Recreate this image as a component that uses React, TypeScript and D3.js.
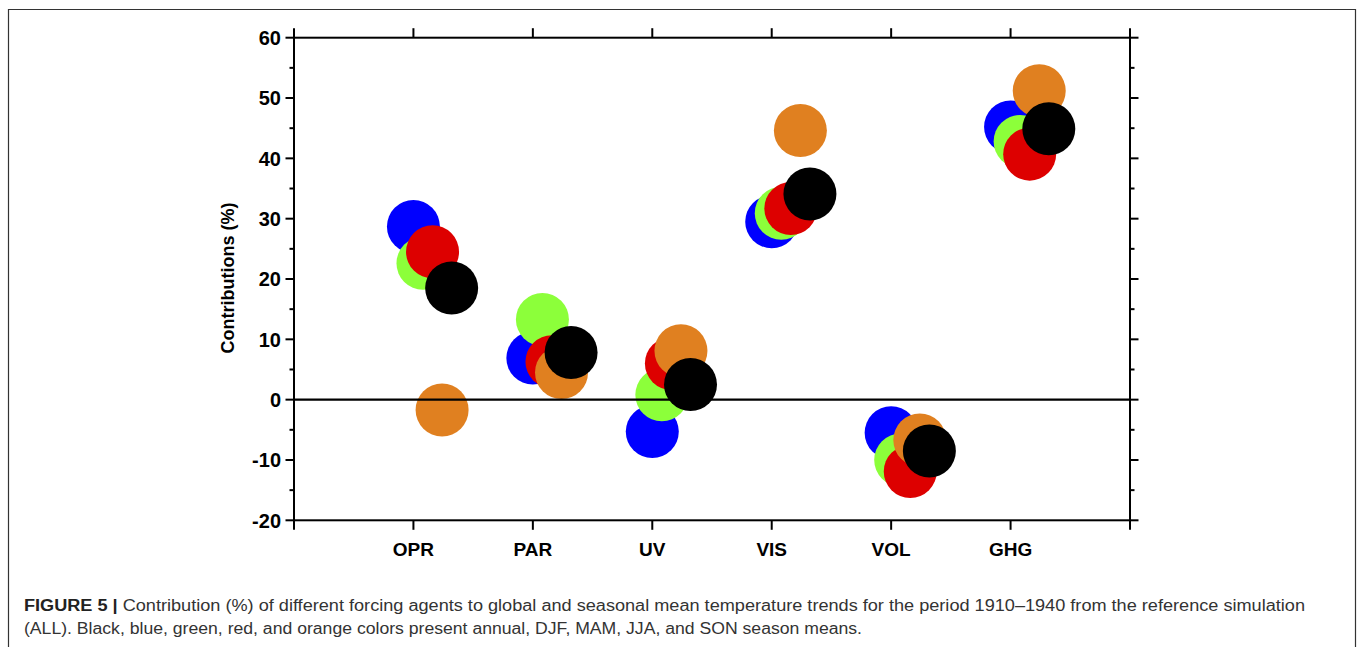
import React from "react";
import * as d3 from "d3";

const categories = ["OPR", "PAR", "UV", "VIS", "VOL", "GHG"];
const djf = [28.7, 6.9, -5.3, 29.5, -5.5, 45.2];
const mam = [22.6, 13.3, 0.8, 30.9, -10.0, 42.8];
const jja = [24.5, 6.3, 6.0, 31.7, -11.9, 40.7];
const son = [-1.7, 4.5, 8.1, 44.6, -6.7, 51.2];
const annual = [18.5, 7.8, 2.5, 34.1, -8.5, 44.9];
const yTicks = [-20, -10, 0, 10, 20, 30, 40, 50, 60];
const yMinor = [-15, -5, 5, 15, 25, 35, 45, 55];

const seriesList = [
  { name: "DJF", values: djf, color: "#0000ff", offset: 0 },
  { name: "MAM", values: mam, color: "#8cff3a", offset: 0.08 },
  { name: "JJA", values: jja, color: "#dd0000", offset: 0.16 },
  { name: "SON", values: son, color: "#e08020", offset: 0.24 },
  { name: "Annual", values: annual, color: "#000000", offset: 0.32 },
];

const caption1 =
  "Contribution (%) of different forcing agents to global and seasonal mean temperature trends for the period 1910\u20131940 from the reference simulation";
const caption2 =
  "(ALL). Black, blue, green, red, and orange colors present annual, DJF, MAM, JJA, and SON season means.";

export default function App() {
  const W = 1360;
  const H = 647;
  const left = 294;
  const right = 1130;
  const top = 37.7;
  const bottom = 520.3;
  const x = d3.scaleLinear().domain([0, categories.length + 1]).range([left, right]);
  const y = d3.scaleLinear().domain([-20, 60]).range([bottom, top]);
  const xTickVals = d3.range(0, categories.length + 2);
  const font = "Arial, 'Liberation Sans', Helvetica, sans-serif";
  const r = 26.5;

  return (
    <div style={{ position: "absolute", left: 0, top: 0 }}>
      <style>{"body{margin:0}"}</style>
      <svg width={W} height={H} style={{ display: "block", background: "#fff" }}>
        {/* figure frame */}
        <path d={`M8.5,${H} V9.5 H1355.5 V${H}`} fill="none" stroke="#333" strokeWidth={1.2} />

        {/* circles */}
        {seriesList.map((s) => (
          <g key={s.name}>
            {s.values.map((v, i) => (
              <circle key={i} cx={x(i + 1 + s.offset)} cy={y(v)} r={r} fill={s.color} />
            ))}
          </g>
        ))}

        {/* zero line */}
        <line x1={left} x2={right} y1={y(0)} y2={y(0)} stroke="#000" strokeWidth={2.4} />

        {/* axes frame */}
        <rect x={left} y={top} width={right - left} height={bottom - top} fill="none" stroke="#000" strokeWidth={2} />

        {/* y ticks left and right */}
        {yTicks.map((t) => (
          <g key={"yt" + t}>
            <line x1={left - 8.5} x2={left} y1={y(t)} y2={y(t)} stroke="#000" strokeWidth={2} />
            <line x1={right} x2={right + 8.5} y1={y(t)} y2={y(t)} stroke="#000" strokeWidth={2} />
            <text
              x={left - 13}
              y={y(t)}
              dy="0.36em"
              textAnchor="end"
              fontFamily={font}
              fontWeight="bold"
              fontSize={20}
            >
              {t}
            </text>
          </g>
        ))}
        {yMinor.map((t) => (
          <g key={"ym" + t}>
            <line x1={left - 4.5} x2={left} y1={y(t)} y2={y(t)} stroke="#000" strokeWidth={2} />
            <line x1={right} x2={right + 4.5} y1={y(t)} y2={y(t)} stroke="#000" strokeWidth={2} />
          </g>
        ))}

        {/* x ticks top and bottom */}
        {xTickVals.map((t) => (
          <g key={"xt" + t}>
            <line x1={x(t)} x2={x(t)} y1={top - 9.5} y2={top} stroke="#000" strokeWidth={2} />
            <line x1={x(t)} x2={x(t)} y1={bottom} y2={bottom + 9.5} stroke="#000" strokeWidth={2} />
          </g>
        ))}

        {/* category labels */}
        {categories.map((c, i) => (
          <text
            key={c}
            x={x(i + 1)}
            y={556}
            textAnchor="middle"
            fontFamily={font}
            fontWeight="bold"
            fontSize={19}
          >
            {c}
          </text>
        ))}

        {/* y axis title */}
        <text
          transform={`translate(234,${(top + bottom) / 2 - 1}) rotate(-90)`}
          textAnchor="middle"
          fontFamily={font}
          fontWeight="bold"
          fontSize={18}
        >
          Contributions (%)
        </text>

        {/* caption */}
        <text x={24} y={611} fontFamily={font} fontSize={16} fill="#333" textLength={1281} lengthAdjust="spacingAndGlyphs">
          <tspan fontWeight="bold" fill="#222">FIGURE 5 | </tspan>
          {caption1}
        </text>
        <text x={24} y={634} fontFamily={font} fontSize={16} fill="#333" textLength={838} lengthAdjust="spacingAndGlyphs">
          {caption2}
        </text>
      </svg>
    </div>
  );
}
